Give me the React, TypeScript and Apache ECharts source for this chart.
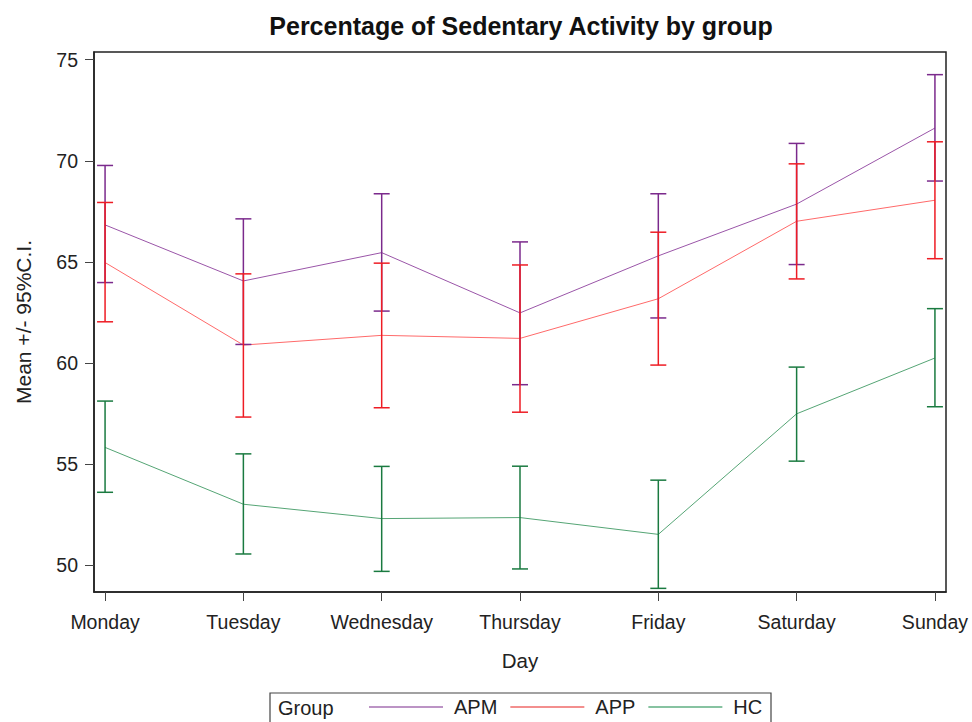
import React, { useEffect, useRef } from "react";
import * as echarts from "echarts";

const days = ["Monday", "Tuesday", "Wednesday", "Thursday", "Friday", "Saturday", "Sunday"];
const yTicks = [50, 55, 60, 65, 70, 75];

const apmMean = [66.83, 64.06, 65.46, 62.48, 65.3, 67.86, 71.62];
const apmLow = [63.98, 60.92, 62.57, 58.93, 62.23, 64.87, 69.0];
const apmHigh = [69.77, 67.13, 68.37, 65.99, 68.37, 70.86, 74.26];

const appMean = [64.97, 60.89, 61.37, 61.22, 63.18, 67.01, 68.05];
const appLow = [62.04, 57.33, 57.79, 57.57, 59.9, 64.16, 65.16];
const appHigh = [67.94, 64.41, 64.94, 64.85, 66.47, 69.85, 70.94];

const hcMean = [55.83, 53.02, 52.31, 52.36, 51.53, 57.49, 60.25];
const hcLow = [53.61, 50.56, 49.7, 49.82, 48.86, 55.15, 57.84];
const hcHigh = [58.12, 55.51, 54.89, 54.9, 54.21, 59.8, 62.69];

const FONT = "'Liberation Sans', Arial, Helvetica, sans-serif";

const groups = [
  { name: "APM", mean: apmMean, low: apmLow, high: apmHigh, bar: "#7b2a8c", line: "#9a55a8", legend: "#7b2a8c" },
  { name: "APP", mean: appMean, low: appLow, high: appHigh, bar: "#ee1c24", line: "#ff6a6a", legend: "#e8201f" },
  { name: "HC", mean: hcMean, low: hcLow, high: hcHigh, bar: "#1a7a40", line: "#55a575", legend: "#118844" },
];

export default function App() {
  const ref = useRef<HTMLDivElement>(null);
  useEffect(() => {
    if (!ref.current) return;
    const chart = echarts.init(ref.current, null, { renderer: "svg" });
    const series: any[] = [];
    groups.forEach((g) => {
      series.push({
        name: g.name,
        type: "line",
        symbol: "none",
        data: g.mean.map((v, i) => [i, v]),
        lineStyle: { color: g.line, width: 1 },
        itemStyle: { color: g.legend },
        z: 2,
      });
    });
    groups.forEach((g) => {
      series.push({
        name: g.name + " CI",
        type: "custom",
        data: g.low.map((v, i) => [i, v, g.high[i]]),
        encode: { x: 0, y: [1, 2] },
        z: 3,
        renderItem: (params: any, api: any) => {
          const x = api.value(0);
          const lo = api.coord([x, api.value(1)]);
          const hi = api.coord([x, api.value(2)]);
          const w = 8;
          const style = { stroke: g.bar, lineWidth: 1.5 };
          return {
            type: "group",
            children: [
              { type: "line", shape: { x1: lo[0], y1: lo[1], x2: hi[0], y2: hi[1] }, style },
              { type: "line", shape: { x1: lo[0] - w, y1: lo[1], x2: lo[0] + w, y2: lo[1] }, style },
              { type: "line", shape: { x1: hi[0] - w, y1: hi[1], x2: hi[0] + w, y2: hi[1] }, style },
            ],
          };
        },
      });
    });

    chart.setOption({
      animation: false,
      backgroundColor: "#ffffff",
      textStyle: { fontFamily: FONT },
      title: {
        text: "Percentage of Sedentary Activity by group",
        left: 516,
        textAlign: "center",
        top: 8,
        textStyle: { fontFamily: FONT, fontSize: 25, fontWeight: "bold", color: "#111" },
      },
      grid: {
        left: 94,
        top: 52,
        width: 852,
        height: 540,
        show: true,
        borderColor: "#222",
        borderWidth: 1.5,
        backgroundColor: "transparent",
      },
      xAxis: {
        type: "value",
        min: -0.08,
        max: 6.08,
        name: "Day",
        nameLocation: "middle",
        nameGap: 58,
        nameTextStyle: { fontFamily: FONT, fontSize: 20.5, color: "#222" },
        axisLine: { show: true, onZero: false, lineStyle: { color: "#222", width: 1.5 } },
        axisTick: { show: true, inside: false, length: 9, customValues: days.map((_, i) => i), lineStyle: { color: "#444", width: 1 } },
        axisLabel: {
          customValues: days.map((_, i) => i),
          formatter: (v: number) => days[Math.round(v)] ?? "",
          fontFamily: FONT,
          fontSize: 19.5,
          color: "#222",
          margin: 20,
        },
        splitLine: { show: false },
      },
      yAxis: {
        type: "value",
        min: 48.68,
        max: 75.38,
        name: "Mean +/- 95%C.I.",
        nameLocation: "middle",
        nameGap: 60,
        nameTextStyle: { fontFamily: FONT, fontSize: 21, color: "#222" },
        axisLine: { show: true, onZero: false, lineStyle: { color: "#222", width: 1.5 } },
        axisTick: { show: true, inside: false, length: 9, customValues: yTicks, lineStyle: { color: "#444", width: 1 } },
        axisLabel: {
          customValues: yTicks,
          fontFamily: FONT,
          fontSize: 19.5,
          color: "#222",
          margin: 16,
        },
        splitLine: { show: false },
      },
      legend: {
        data: groups.map((g) => g.name),
        left: 369,
        top: 697,
        padding: 0,
        itemWidth: 74,
        itemHeight: 20,
        itemGap: 13,
        selectedMode: false,
        icon: "path://M0,10 L74,10 L74,11 L0,11 Z",
        textStyle: { fontFamily: FONT, fontSize: 20, color: "#222", padding: [0, 0, 0, 6] },
      },
      graphic: [
        {
          type: "rect",
          shape: { x: 270, y: 693, width: 501, height: 40 },
          style: { fill: "none", stroke: "#444", lineWidth: 1.2 },
          silent: true,
        },
        {
          type: "text",
          x: 278,
          y: 708,
          style: { text: "Group", font: `20px ${FONT}`, fill: "#222", verticalAlign: "middle" },
          silent: true,
        },
      ],
      series,
    });
    return () => chart.dispose();
  }, []);
  return <div ref={ref} style={{ position: "fixed", left: 0, top: 0, width: 972, height: 722 }} />;
}
